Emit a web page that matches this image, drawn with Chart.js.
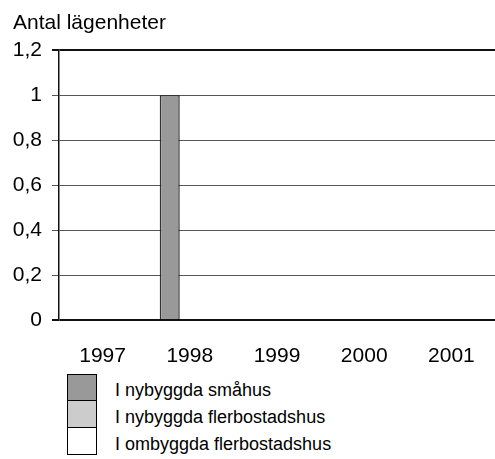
<!DOCTYPE html>
<html>
<head>
<meta charset="utf-8">
<script src="https://cdn.jsdelivr.net/npm/chart.js@4"></script>
<style>
  body { margin: 0; background: #fff; font-family: "Liberation Sans", Arial, sans-serif; }
  #wrap { position: absolute; left: 0; top: 0; width: 495px; height: 370px; }
  #title { position: absolute; left: 13px; top: 11px; font-size: 21px; line-height: 21px; color: #000; }
  #legend { position: absolute; left: 67px; top: 374px; }
  .row { display: flex; align-items: center; height: 27px; }
  .box { width: 28px; height: 26px; border: 1px solid #000; margin-top: -1px; }
  .row:first-child .box { margin-top: 0; }
  .lbl { margin-left: 18px; font-size: 18px; padding-top: 5px; }
</style>
</head>
<body>
<div id="wrap"><canvas id="c"></canvas></div>
<div id="title">Antal lägenheter</div>
<div id="legend"></div>
<script>
// år på x-axeln
const years = ['1997', '1998', '1999', '2000', '2001'];
const nyaSmahus = [0, 1, 0, 0, 0];
const nyaFlerbostad = [0, 0, 0, 0, 0];
const ombyggdaFlerbostad = [0, 0, 0, 0, 0];
const yTicks = [0, 0.2, 0.4, 0.6, 0.8, 1, 1.2];

const seriesNames = ['I nybyggda småhus', 'I nybyggda flerbostadshus', 'I ombyggda flerbostadshus'];
const seriesColors = ['#999999', '#cccccc', '#ffffff'];

const fmt = v => String(Math.round(v * 10) / 10).replace('.', ',');

new Chart(document.getElementById('c'), {
  type: 'bar',
  data: {
    labels: years,
    datasets: [nyaSmahus, nyaFlerbostad, ombyggdaFlerbostad].map((d, i) => ({
      label: seriesNames[i],
      data: d,
      backgroundColor: seriesColors[i],
      borderColor: '#333',
      borderWidth: 1.5,
      barPercentage: 1,
      categoryPercentage: 0.69
    }))
  },
  options: {
    responsive: true,
    maintainAspectRatio: false,
    animation: false,
    layout: { padding: { top: 50, left: 0, right: 0, bottom: 0 } },
    plugins: { legend: { display: false }, title: { display: false }, tooltip: { enabled: false } },
    scales: {
      x: {
        grid: { display: false },
        border: { display: false },
        ticks: { color: '#000', padding: 16, font: { family: 'Liberation Sans', size: 21 } },
        afterFit: s => { s.height = 50; }
      },
      y: {
        min: 0,
        max: 1.2,
        afterBuildTicks: s => { s.ticks = yTicks.map(v => ({ value: v })); },
        grid: {
          color: c => (c.tick && (c.tick.value === 0 || c.tick.value === 1.2)) ? '#111' : '#555',
          lineWidth: c => (c.tick && (c.tick.value === 0 || c.tick.value === 1.2)) ? 2 : 1,
          tickLength: 7
        },
        border: { color: '#111', width: 1.5 },
        ticks: { color: '#000', padding: 10, font: { family: 'Liberation Sans', size: 21 }, callback: v => fmt(v) },
        afterFit: s => { s.width = 59; }
      }
    }
  }
});

const legend = document.getElementById('legend');
seriesNames.forEach((n, i) => {
  const row = document.createElement('div');
  row.className = 'row';
  row.innerHTML = '<div class="box" style="background:' + seriesColors[i] + '"></div><div class="lbl">' + n + '</div>';
  legend.appendChild(row);
});
</script>
</body>
</html>
